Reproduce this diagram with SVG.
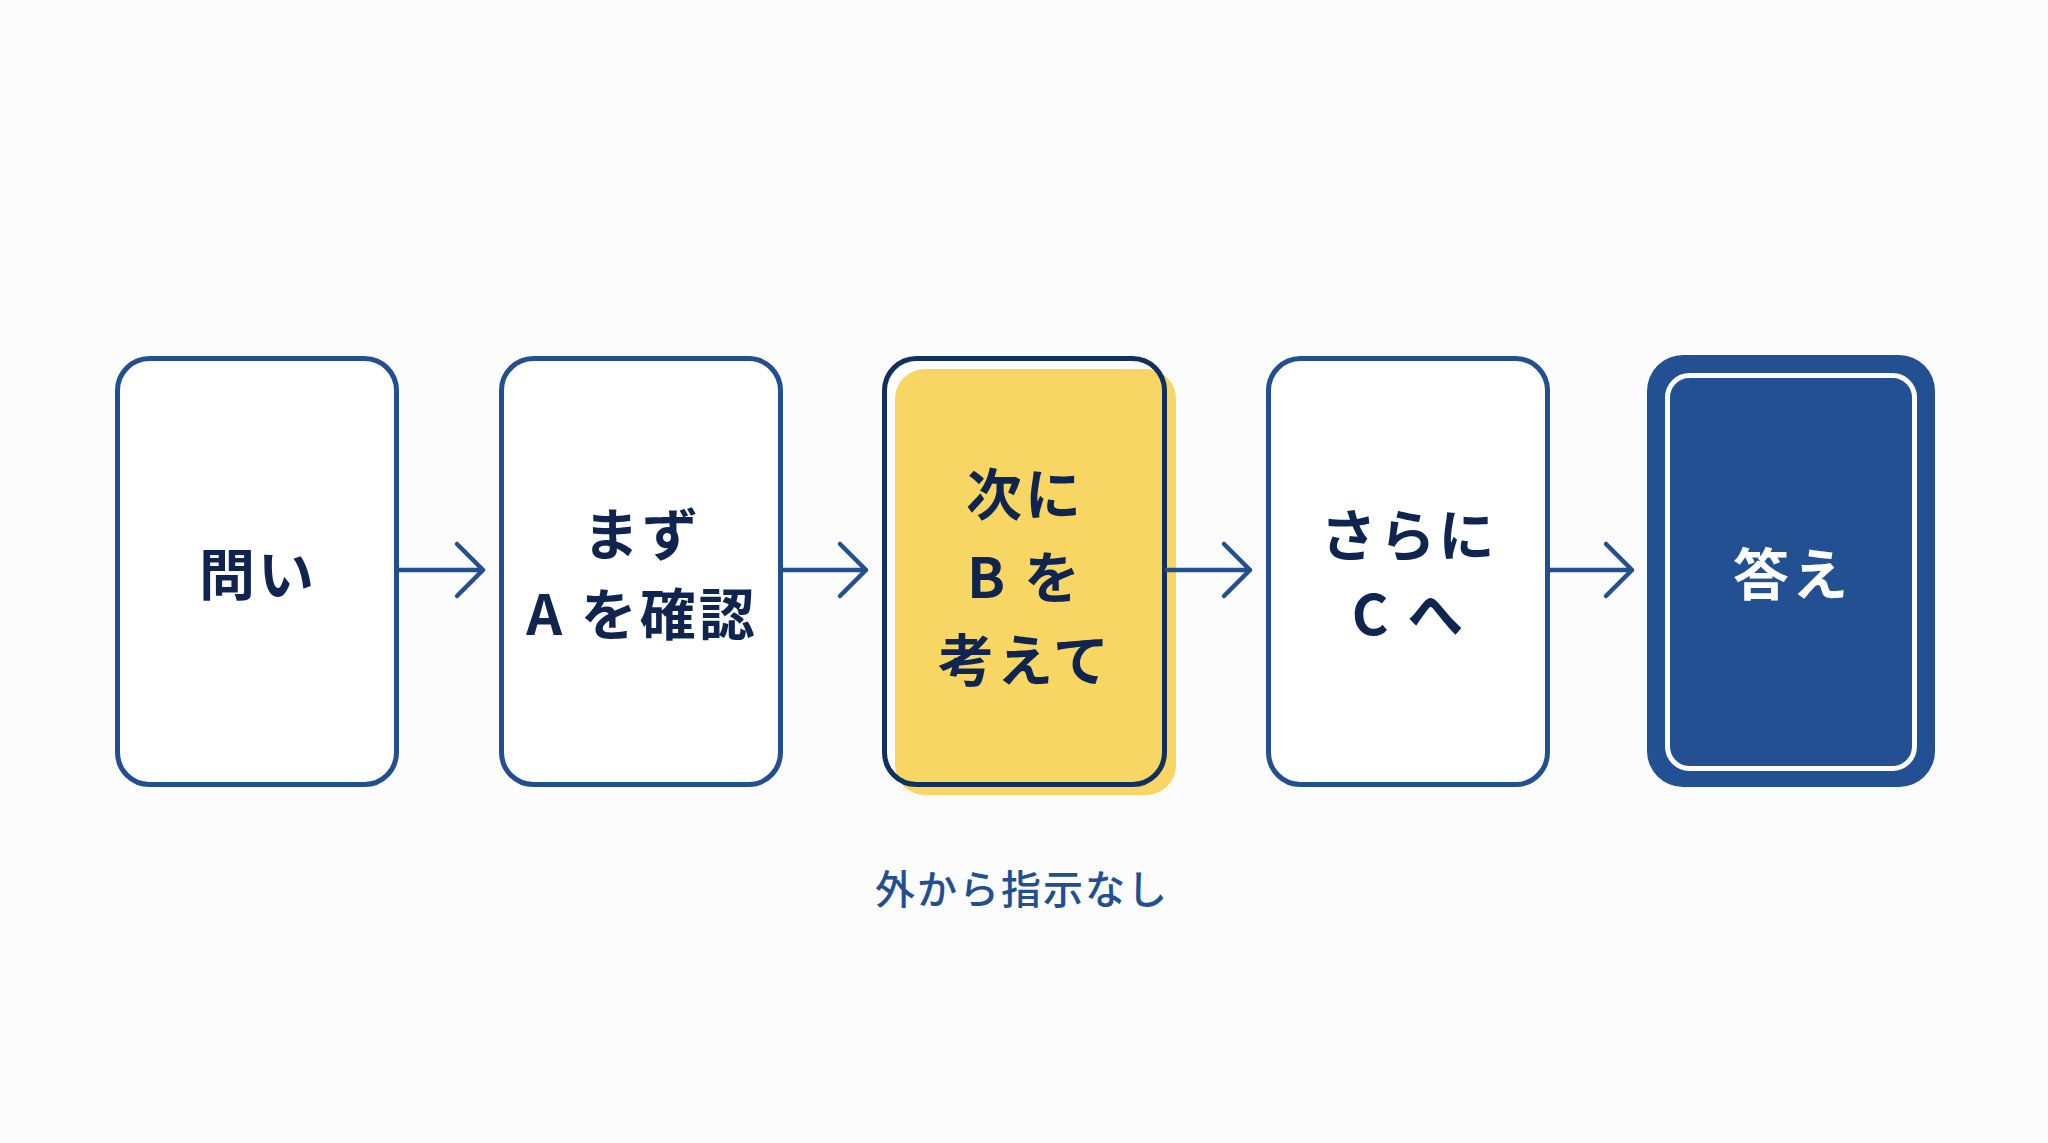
<svg xmlns="http://www.w3.org/2000/svg" width="2048" height="1143" viewBox="0 0 2048 1143">
<style>
.box{fill:#ffffff;stroke:#234f8f;stroke-width:5}
.lbl{font-family:"Noto Sans CJK JP","Noto Sans",sans-serif;font-weight:700;font-size:56px;letter-spacing:3px;fill:#0f2550;text-anchor:middle;dominant-baseline:central}
.conn{fill:none;stroke:#234f8f;stroke-width:4.5;stroke-linecap:round;stroke-linejoin:round}
.note{font-family:"Noto Sans CJK JP","Noto Sans",sans-serif;font-weight:500;font-size:40px;letter-spacing:2px;fill:#234f8f;text-anchor:middle;dominant-baseline:central}
</style>
<rect x="0" y="0" width="2048" height="1143" fill="#fcfcfd"/>
<g id="node-toi">
<rect class="box" x="117.5" y="358.5" width="279" height="426" rx="32"/>
<text class="lbl" x="258" y="570">問い</text>
</g>
<g id="node-mazu">
<rect class="box" x="501.5" y="358.5" width="279" height="426" rx="32"/>
<text class="lbl" x="642" y="530">まず</text>
<text class="lbl" x="642" y="610">A を確認</text>
</g>
<g id="node-tsugi">
<rect x="884.5" y="358.5" width="280" height="426" rx="32" fill="#ffffff"/>
<rect x="895" y="369" width="281" height="426" rx="30" fill="#f8d664"/>
<rect x="884.5" y="358.5" width="280" height="426" rx="32" fill="none" stroke="#12305e" stroke-width="5"/>
<text class="lbl" x="1025" y="490">次に</text>
<text class="lbl" x="1025" y="573">B を</text>
<text class="lbl" x="1025" y="656">考えて</text>
</g>
<g id="node-sarani">
<rect class="box" x="1268.5" y="358.5" width="279" height="426" rx="32"/>
<text class="lbl" x="1409" y="531">さらに</text>
<text class="lbl" x="1409" y="610">C へ</text>
</g>
<g id="node-kotae">
<rect x="1647" y="355" width="288" height="432" rx="36" fill="#234f93"/>
<rect x="1667.5" y="375.5" width="247" height="393" rx="22" fill="none" stroke="#ffffff" stroke-width="5"/>
<text class="lbl" x="1792" y="570" style="fill:#ffffff">答え</text>
</g>
<g id="connectors">
<path class="conn" d="M399 570 H483 M457 544 L483 570 L457 596"/>
<path class="conn" d="M783 570 H866 M840 544 L866 570 L840 596"/>
<path class="conn" d="M1167 570 H1250 M1224 544 L1250 570 L1224 596"/>
<path class="conn" d="M1550 570 H1632 M1606 544 L1632 570 L1606 596"/>
</g>
<g id="note">
<text class="note" x="1022" y="887">外から指示なし</text>
</g>
</svg>
